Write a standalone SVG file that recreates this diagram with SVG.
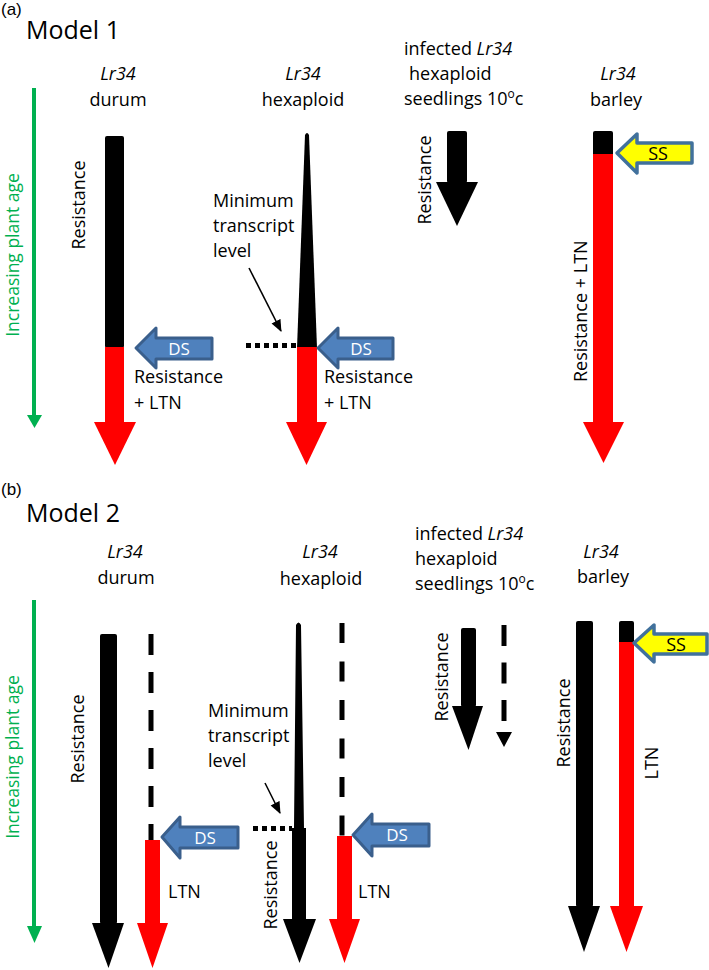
<svg xmlns="http://www.w3.org/2000/svg" width="709" height="970" viewBox="0 0 709 970">
<style>
text{font-family:"Open Sans","Liberation Sans",sans-serif;font-size:18px;fill:#000}
.it{font-style:italic}
.mid{text-anchor:middle}
.title{font-size:25px}
.panel{font-family:"Liberation Sans",Arial,sans-serif;font-size:17px}
.gtxt{fill:#00B050;font-size:17.5px}
.blk{fill:#000}
.red{fill:#FF0000}
.ds{fill:#4F81BD;stroke:#3A5F8C;stroke-width:3;stroke-linejoin:round}
.ss{fill:#FFFF00;stroke:#41719C;stroke-width:3.5;stroke-linejoin:round}
.dstxt{fill:#fff;font-size:17px;text-anchor:middle}
.sstxt{font-size:18px;text-anchor:middle}
.dot{stroke:#000;stroke-width:5;stroke-dasharray:5 4;fill:none}
.dash{stroke:#000;stroke-width:5;fill:none}
.ptr{stroke:#000;stroke-width:1.6;fill:none;marker-end:url(#ah)}
.gl{stroke:#00B050;stroke-width:4}
.gh{fill:#00B050}
</style>
<defs>
<marker id="ah" viewBox="0 0 12 12" refX="11" refY="6" markerWidth="12" markerHeight="12" markerUnits="userSpaceOnUse" orient="auto">
<path d="M0,1 L12,6 L0,11 z" fill="#000"/>
</marker>
</defs>

<!-- Panel (a) -->
<text class="panel" x="1" y="15">(a)</text>
<text class="title" x="26" y="39">Model 1</text>

<g id="m1-age">
<text class="gtxt mid" transform="translate(19,255) rotate(-90)">Increasing plant age</text>
</g>

<g id="m1-durum">
<text class="it mid" x="118" y="80">Lr34</text>
<text class="mid" x="118" y="106">durum</text>
<rect class="blk" x="105" y="136" width="19" height="212" rx="2"/>
<rect class="red" x="105" y="347" width="19" height="76"/>
<polygon class="red" points="94,422 136,422 115,465"/>
<text class="mid" transform="translate(85,205) rotate(-90)">Resistance</text>
<text x="134" y="383">Resistance</text>
<text x="134" y="409">+ LTN</text>
</g>

<g id="m1-ds1">
<polygon class="ds" points="136,348 156,328 156,338 212,338 212,359 156,359 156,368"/>
<text class="dstxt" x="179" y="355">DS</text>
</g>

<g id="m1-hexaploid">
<text class="it mid" x="303" y="80">Lr34</text>
<text class="mid" x="303" y="106">hexaploid</text>
<path class="blk" d="M305,135 Q307,131 309,135 L317,348 L297,348 Z"/>
<rect class="red" x="297" y="347" width="20" height="76"/>
<polygon class="red" points="286,422 327,422 306.5,465"/>
<text x="324" y="383">Resistance</text>
<text x="324" y="409">+ LTN</text>
</g>

<g id="m1-min">
<text x="213" y="207">Minimum</text>
<text x="213" y="232">transcript</text>
<text x="213" y="257">level</text>
</g>

<g id="m1-ds2">
<polygon class="ds" points="318,348 338,328 338,338 393,338 393,359 338,359 338,368"/>
<text class="dstxt" x="361" y="355">DS</text>
</g>

<g id="m1-seedlings">
<text x="404" y="55">infected <tspan class="it">Lr34</tspan></text>
<text x="409" y="80">hexaploid</text>
<text x="404" y="105">seedlings 10<tspan dy="-7" font-size="12">o</tspan><tspan dy="7">c</tspan></text>
<rect class="blk" x="447" y="131" width="20" height="52" rx="2"/>
<polygon class="blk" points="436,182 478,182 457,226"/>
<text class="mid" transform="translate(431,180) rotate(-90)">Resistance</text>
</g>

<g id="m1-barley">
<text class="it mid" x="618" y="80">Lr34</text>
<text class="mid" x="616" y="106">barley</text>
<rect class="blk" x="593" y="131" width="20" height="25" rx="2"/>
<rect class="red" x="593" y="154" width="20" height="269"/>
<polygon class="red" points="583,422 624,422 603.5,463"/>
<text transform="translate(587,382) rotate(-90)">Resistance + LTN</text>
</g>

<g id="m1-ss">
<polygon class="ss" points="617,153 637,134 637,143 692,143 692,163 637,163 637,173"/>
<text class="sstxt" x="658" y="160">SS</text>
</g>

<!-- Panel (b) -->
<text class="panel" x="1" y="495">(b)</text>
<text class="title" x="26" y="522">Model 2</text>

<g id="m2-age">
<text class="gtxt mid" transform="translate(19,757) rotate(-90)">Increasing plant age</text>
</g>

<g id="m2-durum">
<text class="it mid" x="125" y="558">Lr34</text>
<text class="mid" x="126" y="584">durum</text>
<rect class="blk" x="100" y="634" width="17" height="290" rx="2"/>
<polygon class="blk" points="92,923 124,923 108.5,968"/>
<line class="dash" x1="151" y1="634" x2="151" y2="841" stroke-dasharray="21 17"/>
<rect class="red" x="145" y="840" width="15" height="84"/>
<polygon class="red" points="137,923 168,923 152.5,968"/>
<text class="mid" transform="translate(84,739) rotate(-90)">Resistance</text>
<text x="168" y="898">LTN</text>
</g>

<g id="m2-ds1">
<polygon class="ds" points="162,837 180,817 180,827 238,827 238,848 180,848 180,858"/>
<text class="dstxt" x="205" y="844">DS</text>
</g>

<g id="m2-hexaploid">
<text class="it mid" x="320" y="558">Lr34</text>
<text class="mid" x="321" y="585">hexaploid</text>
<path class="blk" d="M296,625 Q298.5,620 301,625 L304,828 L306,828 L306,920 L292,920 L292,828 L294,828 Z"/>
<polygon class="blk" points="283,919 316,919 299.5,963"/>
<line class="dash" x1="342" y1="623" x2="342" y2="837" stroke-dasharray="20 18.5"/>
<rect class="red" x="337" y="836" width="15" height="84"/>
<polygon class="red" points="329,919 360,919 344.5,963"/>
<text class="mid" transform="translate(277,885) rotate(-90)">Resistance</text>
<text x="358" y="898">LTN</text>
</g>

<g id="m2-min">
<text x="208" y="717">Minimum</text>
<text x="208" y="742">transcript</text>
<text x="208" y="767">level</text>
</g>

<g id="m2-ds2">
<polygon class="ds" points="353,835 372,814 372,824 429,824 429,846 372,846 372,856"/>
<text class="dstxt" x="397" y="841">DS</text>
</g>

<g id="m2-seedlings">
<text x="415" y="540">infected <tspan class="it">Lr34</tspan></text>
<text x="415" y="565">hexaploid</text>
<text x="415" y="590">seedlings 10<tspan dy="-7" font-size="12">o</tspan><tspan dy="7">c</tspan></text>
<rect class="blk" x="461" y="628" width="15" height="79" rx="2"/>
<polygon class="blk" points="452,706 483,706 468.5,750"/>
<line class="dash" x1="504" y1="625" x2="504" y2="723" stroke-dasharray="21 16.5"/>
<polygon class="blk" points="496,732 512,732 504,747"/>
<text class="mid" transform="translate(448,677) rotate(-90)">Resistance</text>
</g>

<g id="m2-barley">
<text class="it mid" x="601" y="558">Lr34</text>
<text class="mid" x="603" y="583">barley</text>
<rect class="blk" x="576" y="621" width="17" height="286" rx="2"/>
<polygon class="blk" points="568,906 600,906 584,952"/>
<rect class="blk" x="619" y="621" width="15" height="23" rx="2"/>
<rect class="red" x="619" y="642" width="15" height="265"/>
<polygon class="red" points="610,906 643,906 626.5,952"/>
<text class="mid" transform="translate(570,723) rotate(-90)">Resistance</text>
<text class="mid" transform="translate(658,763) rotate(-90)">LTN</text>
</g>

<g id="m2-ss">
<polygon class="ss" points="634,643 654,625 654,634 707,634 707,654 654,654 654,662"/>
<text class="sstxt" x="676" y="651">SS</text>
</g>

<g id="connectors">
<line class="gl" x1="34" y1="88" x2="34" y2="416"/>
<polygon class="gh" points="27,415 42,415 34.5,428"/>
<line class="gl" x1="34" y1="600" x2="34" y2="928"/>
<polygon class="gh" points="27,926 42,926 34.5,943"/>
<line class="dot" x1="246" y1="345.5" x2="296" y2="345.5"/>
<line class="ptr" x1="249" y1="268" x2="281" y2="331"/>
<line class="dot" x1="253" y1="828.5" x2="292" y2="828.5"/>
<line class="ptr" x1="265" y1="783" x2="280" y2="813"/>
</g>
</svg>
